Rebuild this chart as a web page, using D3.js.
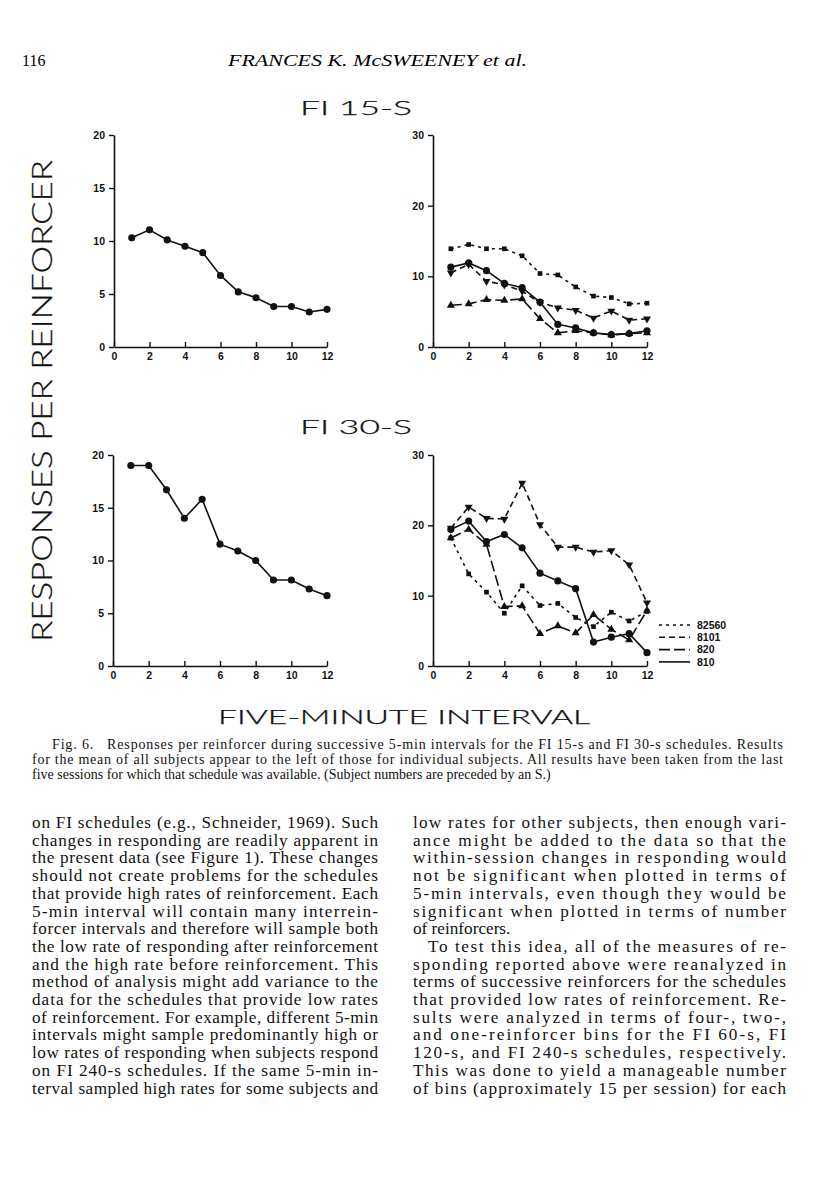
<!DOCTYPE html>
<html><head><meta charset="utf-8">
<script src="https://cdn.jsdelivr.net/npm/d3@7"></script>
<style>body{margin:0;background:#fff}svg{display:block}</style>
</head><body>
<script>
// ---------- DATA ----------
const intervals = [1,2,3,4,5,6,7,8,9,10,11,12];
const xTicks = [0,2,4,6,8,10,12];
const yTicksMean = [0,5,10,15,20];
const yTicksSubj = [0,10,20,30];
const subjects = ["82560","8101","820","810"];
// FI 15-s
const fi15Mean = [10.3,11.05,10.1,9.5,8.9,6.75,5.2,4.65,3.82,3.82,3.3,3.55];
const fi15_82560 = [13.9,14.5,13.9,13.9,12.9,10.4,10.2,8.5,7.2,7.0,6.1,6.2];
const fi15_8101  = [10.5,11.7,9.3,8.8,7.9,6.3,5.55,5.2,4.1,5.1,3.8,4.0];
const fi15_820   = [5.9,6.1,6.7,6.6,6.8,4.0,2.0,2.3,2.0,1.7,1.9,2.0];
const fi15_810   = [11.3,11.9,10.8,9.0,8.4,6.35,3.2,2.7,2.0,1.75,1.9,2.3];
// FI 30-s
const fi30Mean = [19.0,19.0,16.7,14.0,15.8,11.55,10.9,10.0,8.15,8.15,7.3,6.67];
const fi30_82560 = [18.2,13.1,10.5,7.5,11.4,8.6,8.9,6.9,5.6,7.65,6.4,7.75];
const fi30_8101  = [19.6,22.6,21.0,20.9,26.0,20.1,16.9,16.9,16.2,16.4,14.4,9.0];
const fi30_820   = [18.2,19.4,17.3,8.45,8.55,4.6,5.7,4.7,7.3,5.2,3.7,7.9];
const fi30_810   = [19.4,20.6,17.7,18.7,16.8,13.2,12.1,11.0,3.4,4.1,4.6,1.9];

const header = ["116", "FRANCES K. McSWEENEY et al."];
const titles = ["FI 15-S", "FI 30-S"];
const xTitle = "FIVE-MINUTE INTERVAL";
const yTitle = "RESPONSES PER REINFORCER";
const caption = [
 "Fig. 6.   Responses per reinforcer during successive 5-min intervals for the FI 15-s and FI 30-s schedules. Results",
 "for the mean of all subjects appear to the left of those for individual subjects. All results have been taken from the last",
 "five sessions for which that schedule was available. (Subject numbers are preceded by an S.)"
];
const bodyLeft = [
 "on FI schedules (e.g., Schneider, 1969). Such",
 "changes in responding are readily apparent in",
 "the present data (see Figure 1). These changes",
 "should not create problems for the schedules",
 "that provide high rates of reinforcement. Each",
 "5-min interval will contain many interrein-",
 "forcer intervals and therefore will sample both",
 "the low rate of responding after reinforcement",
 "and the high rate before reinforcement. This",
 "method of analysis might add variance to the",
 "data for the schedules that provide low rates",
 "of reinforcement. For example, different 5-min",
 "intervals might sample predominantly high or",
 "low rates of responding when subjects respond",
 "on FI 240-s schedules. If the same 5-min in-",
 "terval sampled high rates for some subjects and"
];
const bodyRight = [
 "low rates for other subjects, then enough vari-",
 "ance might be added to the data so that the",
 "within-session changes in responding would",
 "not be significant when plotted in terms of",
 "5-min intervals, even though they would be",
 "significant when plotted in terms of number",
 "of reinforcers.",
 "To test this idea, all of the measures of re-",
 "sponding reported above were reanalyzed in",
 "terms of successive reinforcers for the schedules",
 "that provided low rates of reinforcement. Re-",
 "sults were analyzed in terms of four-, two-,",
 "and one-reinforcer bins for the FI 60-s, FI",
 "120-s, and FI 240-s schedules, respectively.",
 "This was done to yield a manageable number",
 "of bins (approximately 15 per session) for each"
];

// ---------- DRAW ----------
const W = 816, H = 1200;
const svg = d3.select("body").append("svg").attr("width", W).attr("height", H);
const serif = "'Liberation Serif','Times New Roman',serif";
const sans = "'Liberation Sans',Arial,sans-serif";
const thin = "Lato,'Open Sans','Liberation Sans',sans-serif";

svg.append("text").attr("x", 22).attr("y", 66).attr("font-family", serif).attr("font-size", 16).text(header[0]);
svg.append("text").attr("x", 228).attr("y", 66).attr("font-family", serif).attr("font-size", 16)
  .attr("font-style", "italic").attr("textLength", 299).attr("lengthAdjust", "spacingAndGlyphs").text(header[1]);

function plotTitle(t, x, y, w, fs) {
  svg.append("text").attr("x", x).attr("y", y).attr("font-family", thin).attr("font-size", fs)
    .attr("font-weight", 300)
    .attr("textLength", w).attr("lengthAdjust", "spacingAndGlyphs")
    .attr("fill", "#111").attr("stroke", "#111").attr("stroke-width", 0.25).text(t);
}
plotTitle(titles[0], 300, 115, 112, 19);
plotTitle(titles[1], 300, 434, 112, 19);
plotTitle(xTitle, 218, 724, 372, 19);
svg.append("text").attr("transform", "translate(52,642) rotate(-90)")
  .attr("font-family", thin).attr("font-weight", 300).attr("font-size", 27)
  .attr("textLength", 482).attr("lengthAdjust", "spacingAndGlyphs")
  .attr("fill", "#111").attr("stroke", "#111").attr("stroke-width", 0.25).text(yTitle);

const styles = {
  "82560": {dash: "3,4", marker: "square"},
  "8101": {dash: "6,4", marker: "tdown"},
  "820": {dash: "11,4", marker: "tup"},
  "810": {dash: null, marker: "circle"}
};

function panel(x0, x1, y0, y1, ymax, yticks, series) {
  const x = d3.scaleLinear().domain([0, 12]).range([x0, x1]);
  const y = d3.scaleLinear().domain([0, ymax]).range([y0, y1]);
  const g = svg.append("g");
  const ya = g.append("g").attr("transform", `translate(${x0},0)`)
    .call(d3.axisLeft(y).tickValues(yticks).tickSize(5).tickSizeOuter(0));
  const xa = g.append("g").attr("transform", `translate(0,${y0})`)
    .call(d3.axisBottom(x).tickValues(xTicks).tickSize(-5).tickSizeOuter(0));
  [ya, xa].forEach(a => {
    a.select(".domain").attr("stroke-width", 1.6).attr("stroke", "#111");
    a.selectAll(".tick line").attr("stroke-width", 1.4).attr("stroke", "#111");
    a.selectAll("text").attr("font-family", sans).attr("font-weight", "bold").attr("font-size", 10.5).attr("fill", "#111");
  });
  ya.selectAll("text").attr("x", -9);
  xa.selectAll("text").attr("y", 6);
  series.forEach(s => {
    const st = styles[s.name] || styles["810"];
    const line = d3.line().x((d, i) => x(intervals[i])).y(d => y(d));
    g.append("path").datum(s.values).attr("d", line).attr("fill", "none")
      .attr("stroke", "#111").attr("stroke-width", 1.6).attr("stroke-dasharray", st.dash);
    const m = g.append("g").selectAll("path").data(s.values).enter().append("path")
      .attr("fill", "#111")
      .attr("transform", (d, i) => `translate(${x(intervals[i])},${y(d)})`);
    if (st.marker === "circle") m.attr("d", d3.symbol(d3.symbolCircle, 40)());
    else if (st.marker === "square") m.attr("d", d3.symbol(d3.symbolSquare, 22)());
    else if (st.marker === "tup") m.attr("d", d3.symbol(d3.symbolTriangle, 28)());
    else m.attr("d", d3.symbol(d3.symbolTriangle, 28)()).attr("transform", (d, i) => `translate(${x(intervals[i])},${y(d)}) rotate(180)`);
  });
}

panel(114, 327, 347, 135, 20, yTicksMean, [{name: "810", values: fi15Mean}]);
panel(433, 647, 347, 135, 30, yTicksSubj, [
  {name: "82560", values: fi15_82560}, {name: "8101", values: fi15_8101},
  {name: "820", values: fi15_820}, {name: "810", values: fi15_810}]);
panel(113, 327, 666, 455, 20, yTicksMean, [{name: "810", values: fi30Mean}]);
panel(433, 647, 666, 455, 30, yTicksSubj, [
  {name: "82560", values: fi30_82560}, {name: "8101", values: fi30_8101},
  {name: "820", values: fi30_820}, {name: "810", values: fi30_810}]);

// legend
const lg = svg.append("g");
subjects.forEach((s, i) => {
  const yy = 625 + i * 12.3;
  lg.append("line").attr("x1", 659).attr("x2", 690).attr("y1", yy).attr("y2", yy)
    .attr("stroke", "#111").attr("stroke-width", 1.6).attr("stroke-dasharray", styles[s].dash);
  lg.append("text").attr("x", 697).attr("y", yy + 3.8).attr("font-family", sans).attr("font-weight", "bold")
    .attr("font-size", 10.5).attr("fill", "#111").text(s);
});

// caption
caption.forEach((t, i) => {
  const tx = svg.append("text").attr("x", i === 0 ? 52 : 32).attr("y", 749 + i * 15)
    .attr("font-family", serif).attr("font-size", 14).attr("fill", "#111")
    .attr("xml:space", "preserve").style("white-space", "pre").text(t);
  if (i < 2) tx.attr("textLength", i === 0 ? 731 : 751).attr("lengthAdjust", "spacing");
});

// body
function column(lines, x0, x1, noJust, indents) {
  lines.forEach((t, i) => {
    const xx = x0 + (indents.includes(i) ? 15 : 0);
    const tx = svg.append("text").attr("x", xx).attr("y", 828 + i * 17.7)
      .attr("font-family", serif).attr("font-size", 17.2).attr("fill", "#111").text(t);
    if (!noJust.includes(i)) tx.attr("textLength", x1 - xx).attr("lengthAdjust", "spacing");
  });
}
column(bodyLeft, 32, 378, [], []);
column(bodyRight, 413, 786, [6], [7]);
</script>
</body></html>
